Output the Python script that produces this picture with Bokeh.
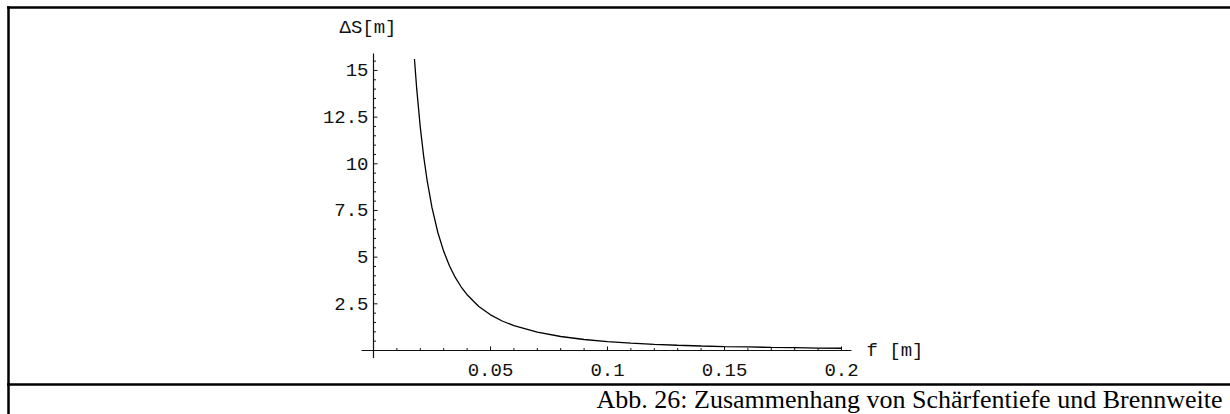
from bokeh.plotting import figure
from bokeh.models import Range1d
from bokeh.core.properties import value
from bokeh.embed import file_html
from bokeh.resources import INLINE

# ---- data ----
f_vals = [0.0175, 0.0185, 0.02, 0.0215, 0.023, 0.025, 0.0275, 0.03, 0.0325, 0.035,
          0.0375, 0.04, 0.045, 0.05, 0.055, 0.06, 0.07, 0.08, 0.09, 0.1,
          0.11, 0.12, 0.13, 0.14, 0.15, 0.16, 0.17, 0.18, 0.19, 0.2]
ds_vals = [15.61, 13.97, 11.95, 10.34, 9.04, 7.65, 6.32, 5.31, 4.53, 3.90,
           3.40, 2.99, 2.36, 1.91, 1.58, 1.33, 0.98, 0.75, 0.59, 0.48,
           0.40, 0.33, 0.28, 0.24, 0.21, 0.19, 0.165, 0.15, 0.13, 0.12]

x_major = [0.05, 0.1, 0.15, 0.2]
x_major_labels = ["0.05", "0.1", "0.15", "0.2"]
x_minor = [0.01, 0.02, 0.03, 0.04, 0.06, 0.07, 0.08, 0.09, 0.11, 0.12, 0.13, 0.14,
           0.16, 0.17, 0.18, 0.19]
y_major = [2.5, 5, 7.5, 10, 12.5, 15]
y_major_labels = ["2.5", "5", "7.5", "10", "12.5", "15"]
y_minor = [0.5, 1, 1.5, 2, 3, 3.5, 4, 4.5, 5.5, 6, 6.5, 7, 8, 8.5, 9, 9.5,
           10.5, 11, 11.5, 12, 13, 13.5, 14, 14.5, 15.5]
x_label = "f [m]"
y_label = "ΔS[m]"
caption = "Abb. 26: Zusammenhang von Schärfentiefe und Brennweite"

# ---- layout ----
W, H = 1230, 414
X0, SX = 373.0, 2340.0     # pixel of f=0, pixels per unit f
Y0, SY = 350.0, 18.67      # pixel (from top) of dS=0, pixels per unit dS

def dx(px):
    return (px - X0) / SX

def dy(py):
    return (Y0 - py) / SY

p = figure(width=W, height=H, output_backend="svg", toolbar_location=None,
           x_range=Range1d(dx(0), dx(W)), y_range=Range1d(dy(H), dy(0)),
           min_border=0, x_axis_location=None, y_axis_location=None)
p.grid.visible = False
p.outline_line_color = None
p.background_fill_color = "white"
p.border_fill_color = "white"

ink = "#111111"
mono = value("Liberation Mono")

# axis lines (Mathematica style, crossing at origin)
p.segment(x0=[dx(361)], y0=[0], x1=[dx(851)], y1=[0], line_color=ink, line_width=1.2)
p.segment(x0=[0], y0=[dy(357.5)], x1=[0], y1=[dy(53)], line_color=ink, line_width=1.2)

# ticks
p.segment(x0=x_major, y0=[0] * len(x_major), x1=x_major, y1=[4 / SY] * len(x_major),
          line_color=ink, line_width=1)
p.segment(x0=x_minor, y0=[0] * len(x_minor), x1=x_minor, y1=[2.5 / SY] * len(x_minor),
          line_color=ink, line_width=1)
p.segment(x0=[0] * len(y_major), y0=y_major, x1=[4 / SX] * len(y_major), y1=y_major,
          line_color=ink, line_width=1)
p.segment(x0=[0] * len(y_minor), y0=y_minor, x1=[2.5 / SX] * len(y_minor), y1=y_minor,
          line_color=ink, line_width=1)

# tick labels
p.text(x=x_major, y=[dy(369)] * len(x_major), text=x_major_labels,
       text_font=mono, text_font_size="19px", text_align="center",
       text_baseline="middle", text_color=ink)
p.text(x=[dx(368)] * len(y_major), y=y_major, text=y_major_labels,
       text_font=mono, text_font_size="19px", text_align="right",
       text_baseline="middle", text_color=ink)

# axis labels
p.text(x=[dx(339)], y=[dy(27)], text=[y_label], text_font=mono, text_font_size="19px",
       text_align="left", text_baseline="middle", text_color=ink)
p.text(x=[dx(866)], y=[dy(350)], text=[x_label], text_font=mono, text_font_size="19px",
       text_align="left", text_baseline="middle", text_color=ink)

# curve
p.line(f_vals, ds_vals, line_color="#000000", line_width=1.3)

# table-like borders
p.segment(x0=[dx(8), dx(6.5), dx(6.5)], y0=[dy(5.8), dy(7), dy(384)],
          x1=[dx(8), dx(W + 2), dx(W + 2)], y1=[dy(H + 2), dy(7), dy(384)],
          line_color="black", line_width=2.5)

# caption
p.text(x=[dx(1222)], y=[dy(399)], text=[caption], text_font=value("Liberation Serif"),
       text_font_size="26px", text_align="right", text_baseline="middle",
       text_color="black")

open("out.html", "w").write(file_html(p, INLINE))
